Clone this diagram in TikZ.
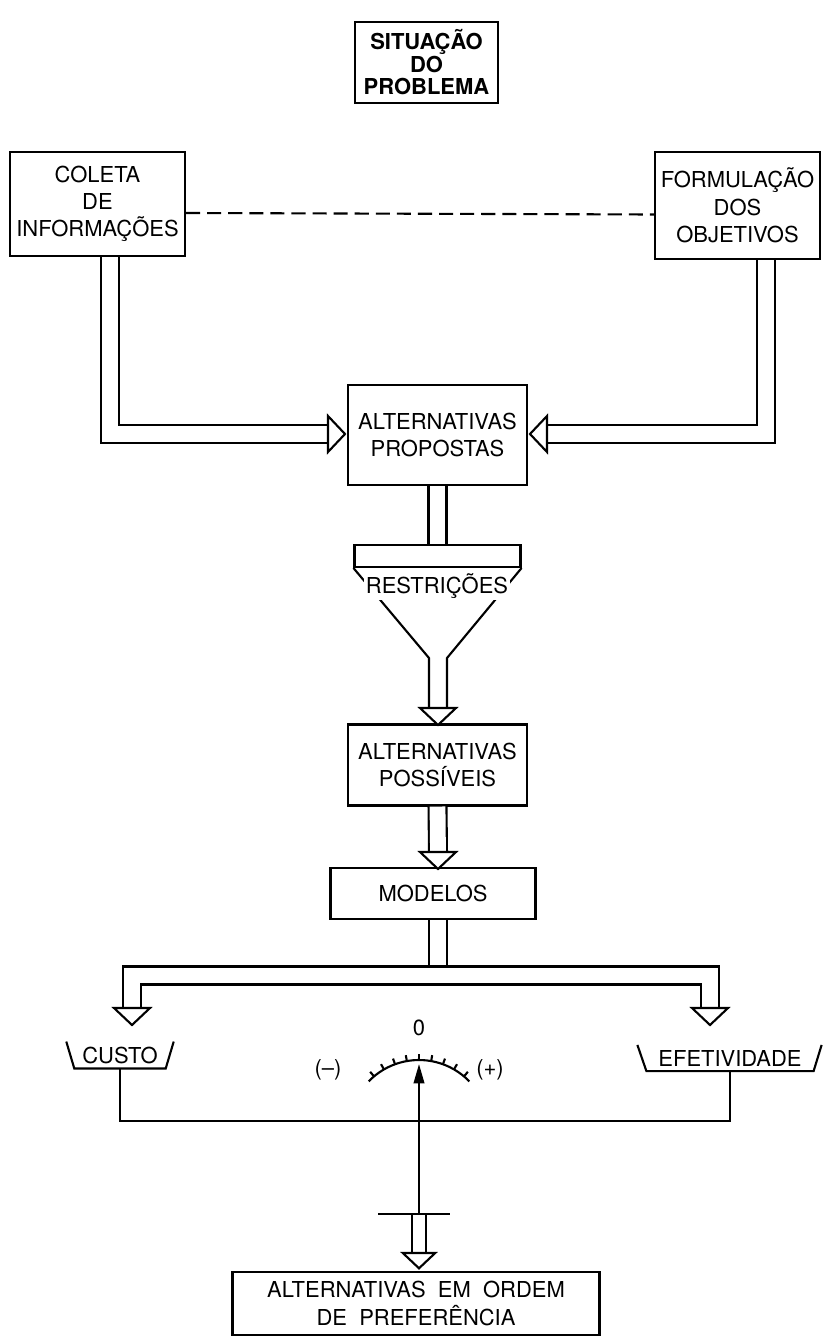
\documentclass[tikz,border=0pt]{standalone}
\usepackage{fontspec}
\setmainfont{TeX Gyre Heros}
\usetikzlibrary{arrows.meta}

\tikzset{
  pipehead/.pic={\draw[fill=white] (0,-18) -- (0,18) -- (17,0) -- cycle;}
}

\begin{document}
\begin{tikzpicture}[x=0.02cm, y=-0.02cm, line width=1.2pt,
    font=\fontsize{12.5}{15.5}\selectfont,
    box/.style={draw, align=center, inner sep=2pt},
    pipe/.style={double, double distance=9pt},
    thin pipe/.style={double, double distance=7pt},
    bowl/.style={inner xsep=0.14cm, inner ysep=0.08cm} ]
    \useasboundingbox (0,0) rectangle (825,1338);
    % boxes
    \node at (426.5,62.5) [box, minimum width=2.86cm, minimum height=1.62cm,
        font=\fontsize{12.5}{12.8}\selectfont\bfseries] (sit) {SITUAÇÃO\\DO\\PROBLEMA};
    \node at (97.5,204) [box, minimum width=3.5cm, minimum height=2.08cm] (coleta) {COLETA\\DE\\INFORMAÇÕES};
    \node at (737.5,205.5) [box, minimum width=3.3cm, minimum height=2.14cm] (formul) {FORMULAÇÃO\\DOS\\OBJETIVOS};
    \node at (437.5,435) [box, minimum width=3.58cm, minimum height=2cm] (prop) {ALTERNATIVAS\\PROPOSTAS};
    \node at (437.5,556) [draw, minimum width=3.32cm, minimum height=0.44cm, inner sep=0pt] (funil) {};
    \node at (437.5,765) [box, minimum width=3.58cm, minimum height=1.62cm] (poss) {ALTERNATIVAS\\POSSÍVEIS};
    \node at (433,893.5) [box, minimum width=4.1cm, minimum height=1.02cm] (modelos) {MODELOS};
    \node at (416,1303.5) [box, minimum width=7.34cm, minimum height=1.27cm] (final) {ALTERNATIVAS\ \ EM\ \ ORDEM\\DE\ \ PREFERÊNCIA};
    \draw [dashed, dash pattern=on 8pt off 4pt] ([yshift=-0.18cm]coleta.east) -- ([yshift=-0.18cm]formul.west);
    % side pipes into the proposals
    \coordinate (hPe) at (328,434);
    \coordinate (hPd) at (547,434);
    \draw [pipe] ([xshift=0.25cm]coleta.south) |- (hPe);
    \draw [pipe] ([xshift=0.57cm]formul.south) |- (hPd);
    \pic at (hPe) {pipehead};
    \pic [rotate=180] at (hPd) {pipehead};
    % funnel
    \draw [pipe] (prop.south) -- (funil.north);
    \coordinate (neckL) at (429,658);
    \coordinate (neckR) at (447,658);
    \coordinate (hF) at (438,708);
    \draw (funil.south west) -- (neckL) -- (neckL |- hF);
    \draw (funil.south east) -- (neckR) -- (neckR |- hF);
    \pic [rotate=-90] at (hF) {pipehead};
    \node at (437,586) [fill=white, inner sep=1pt] (restr) {RESTRIÇÕES};
    % down to the models
    \coordinate (hM) at (438,852);
    \draw [pipe] (poss.south) -- (hM);
    \pic [rotate=-90] at (hM) {pipehead};
    % split to cost and effectiveness
    \coordinate (hC) at (132,1008);
    \coordinate (hE) at (710,1008);
    \coordinate (split) at (438,975.5);
    \draw [pipe] (hM |- modelos.south) -- (split);
    \draw [pipe] (hC) |- (split) -| (hE);
    \pic [rotate=-90] at (hC) {pipehead};
    \pic [rotate=-90] at (hE) {pipehead};
    \node at (120,1055) [bowl] (custo) {CUSTO};
    \node at (730,1058) [bowl, inner xsep=0.22cm] (efet) {EFETIVIDADE};
    \draw ([xshift=-0.16cm]custo.north west) -- (custo.south west) -- (custo.south east) -- ([xshift=0.16cm]custo.north east);
    \draw ([xshift=-0.18cm]efet.north west) -- (efet.south west) -- (efet.south east) -- ([xshift=0.16cm]efet.north east);
    \coordinate (base) at (419,1121);
    \draw (custo.south) |- (base) -| (efet.south);
    % balance
    \coordinate (gc) at (419,1130);
    \draw (gc) ++(-136:70) arc[start angle=-136, end angle=-44, radius=70];
    \foreach \a in {-130,-120,...,-50}
        \draw (gc) ++(\a:70) -- ++(\a:6);
    \node at (419,1028) (zero) {0};
    \node at (328,1070) (menos) {(--)};
    \node at (490,1070) (mais) {(+)};
    \coordinate (bar) at (419,1214);
    \coordinate (ptr) at (419,1064);
    \coordinate (hO) at (419,1253);
    \draw [thin pipe] (bar) -- (hO);
    \pic [rotate=-90, scale=0.9] at (hO) {pipehead};
    \draw [-{Triangle[width=6pt,length=11pt]}] (bar) -- (ptr);
    \draw ([xshift=-0.82cm]bar) -- ([xshift=0.62cm]bar);
\end{tikzpicture}
\end{document}
